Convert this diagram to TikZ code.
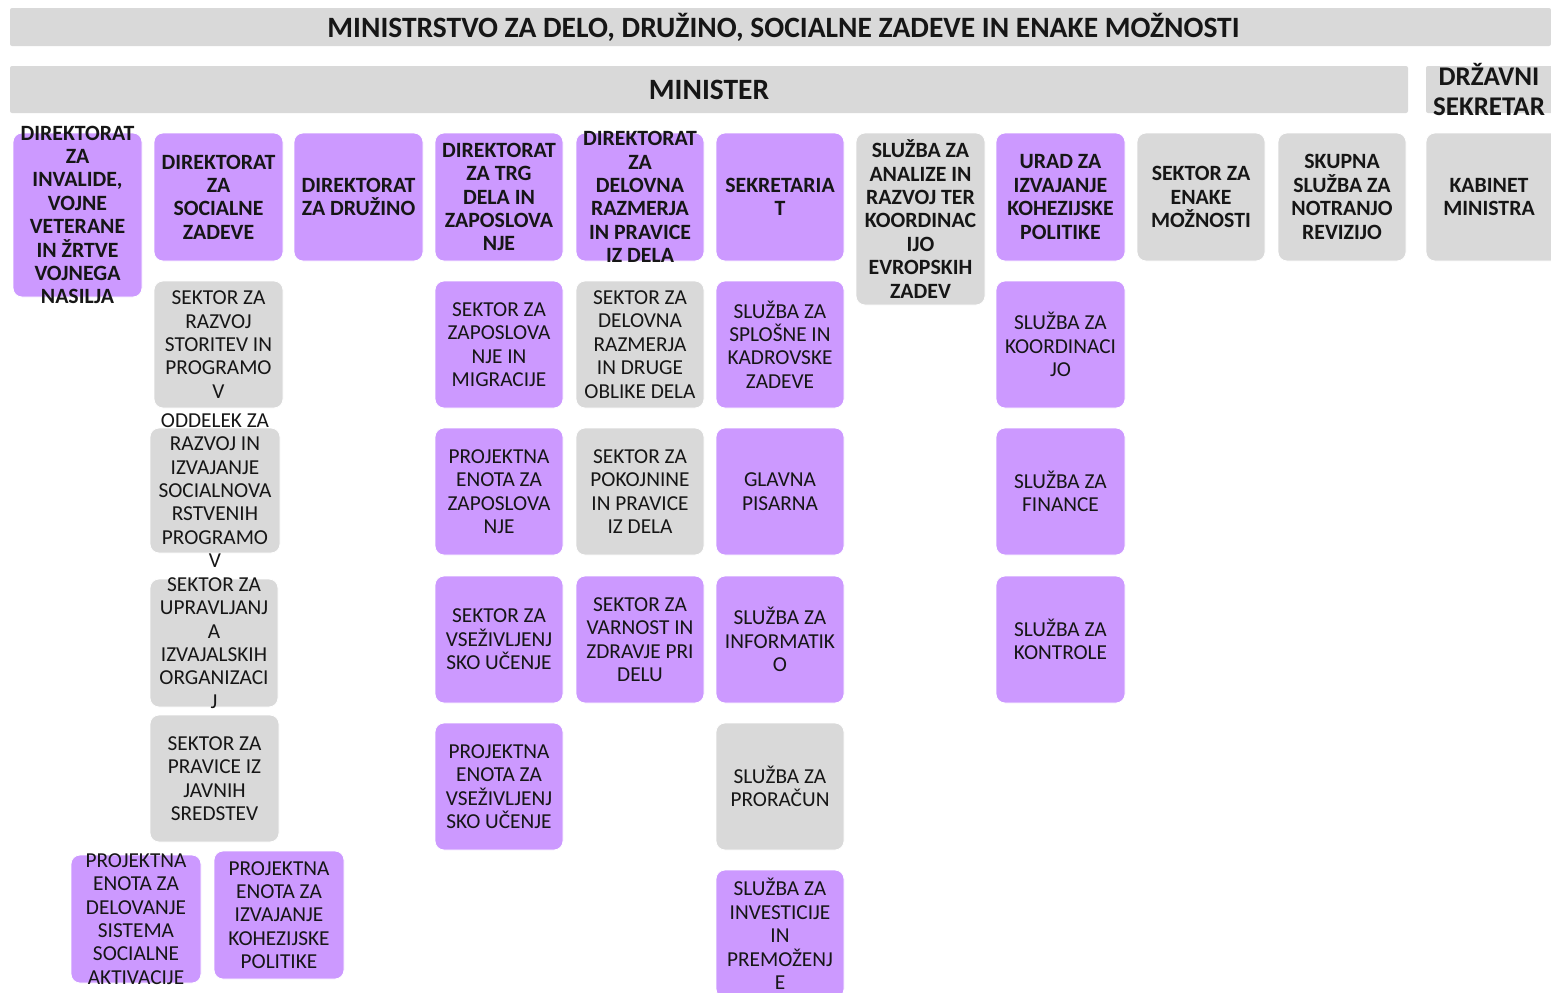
\documentclass[tikz,border=0pt]{standalone}
\usepackage{fontspec}
\setmainfont{Carlito}
\definecolor{purp}{RGB}{204,153,255}
\definecolor{grayb}{RGB}{217,217,217}
\definecolor{ink}{RGB}{22,22,22}
\tikzset{
  pbox/.style={fill=purp, draw=white, line width=0.8pt, rounded corners=9pt},
  gbox/.style={fill=grayb, draw=white, line width=0.8pt, rounded corners=9pt},
  bar/.style={fill=grayb, draw=none, rounded corners=2pt},
  tb/.style={align=center, inner sep=0pt, text=ink, font=\fontsize{21.8}{23.4}\selectfont\bfseries},
  tr/.style={align=center, inner sep=0pt, text=ink, font=\fontsize{21.3}{23.4}\selectfont},
}
\newcommand\ob[8]{%
  \node[#6, minimum width={(#4-#2)*1pt}, minimum height={(#5-#3)*1pt}, inner sep=0pt, outer sep=0pt] (#1) at ({(#2+#4)/2},{(#3+#5)/2}) {};
  \node[#7] (#1t) at (#1.center) {#8};
}
\begin{document}
\begin{tikzpicture}[x=1pt,y=-1pt]
\useasboundingbox (0,0) rectangle (1551,993);
% top bars
\node[bar, minimum width=1541pt, minimum height=38pt, inner sep=0pt] (top) at (780.5,27) {};
\node[font=\fontsize{29.5}{33}\selectfont\bfseries, text=ink, inner sep=0pt] (topt) at (783.5,27) {MINISTRSTVO ZA DELO, DRUŽINO, SOCIALNE ZADEVE IN ENAKE MOŽNOSTI};
\node[bar, minimum width=1398pt, minimum height=47pt, inner sep=0pt] (min) at (709,89.5) {};
\node[font=\fontsize{29.5}{33}\selectfont\bfseries, text=ink, inner sep=0pt] (mint) at (709,89.5) {MINISTER};
\node[bar, minimum width=140pt, minimum height=47pt, inner sep=0pt] (ds) at (1496,89.5) {};
\node[align=center, font=\fontsize{27}{30}\selectfont\bfseries, text=ink, inner sep=0pt] (dst) at (1489,89) {DRŽAVNI\\SEKRETAR};
% row 0
\ob{a1}{13}{133}{142}{297}{pbox}{tb}{DIREKTORAT\\ZA\\INVALIDE,\\VOJNE\\VETERANE\\IN ŽRTVE\\VOJNEGA\\NASILJA}
\ob{a2}{154}{133}{283}{261}{pbox}{tb}{DIREKTORAT\\ZA\\SOCIALNE\\ZADEVE}
\ob{a3}{294}{133}{423}{261}{pbox}{tb}{DIREKTORAT\\ZA DRUŽINO}
\ob{a4}{435}{133}{563}{261}{pbox}{tb}{DIREKTORAT\\ZA TRG\\DELA IN\\ZAPOSLOVA\\NJE}
\ob{a5}{576}{133}{704}{261}{pbox}{tb}{DIREKTORAT\\ZA\\DELOVNA\\RAZMERJA\\IN PRAVICE\\IZ DELA}
\ob{a6}{716}{133}{844}{261}{pbox}{tb}{SEKRETARIA\\T}
\ob{a7}{856}{133}{985}{305}{gbox}{tb}{SLUŽBA ZA\\ANALIZE IN\\RAZVOJ TER\\KOORDINAC\\IJO\\EVROPSKIH\\ZADEV}
\ob{a8}{996}{133}{1125}{261}{pbox}{tb}{URAD ZA\\IZVAJANJE\\KOHEZIJSKE\\POLITIKE}
\ob{a9}{1137}{133}{1265}{261}{gbox}{tb}{SEKTOR ZA\\ENAKE\\MOŽNOSTI}
\ob{a10}{1278}{133}{1406}{261}{gbox}{tb}{SKUPNA\\SLUŽBA ZA\\NOTRANJO\\REVIZIJO}
\node[gbox, minimum width=140pt, minimum height=128pt, inner sep=0pt] (a11) at (1496,197) {};
\node[tb] (a11t) at (1489,197) {KABINET\\MINISTRA};
% row 1
\ob{b2}{154}{281}{283}{408}{gbox}{tr}{SEKTOR ZA\\RAZVOJ\\STORITEV IN\\PROGRAMO\\V}
\ob{b4}{435}{281}{563}{408}{pbox}{tr}{SEKTOR ZA\\ZAPOSLOVA\\NJE IN\\MIGRACIJE}
\ob{b5}{576}{281}{704}{408}{gbox}{tr}{SEKTOR ZA\\DELOVNA\\RAZMERJA\\IN DRUGE\\OBLIKE DELA}
\ob{b6}{716}{281}{844}{408}{pbox}{tr}{SLUŽBA ZA\\SPLOŠNE IN\\KADROVSKE\\ZADEVE}
\ob{b8}{996}{281}{1125}{408}{pbox}{tr}{SLUŽBA ZA\\KOORDINACI\\JO}
% row 2
\ob{c2}{150}{428}{280}{553}{gbox}{tr}{ODDELEK ZA\\RAZVOJ IN\\IZVAJANJE\\SOCIALNOVA\\RSTVENIH\\PROGRAMO\\V}
\ob{c4}{435}{428}{563}{555}{pbox}{tr}{PROJEKTNA\\ENOTA ZA\\ZAPOSLOVA\\NJE}
\ob{c5}{576}{428}{704}{555}{gbox}{tr}{SEKTOR ZA\\POKOJNINE\\IN PRAVICE\\IZ DELA}
\ob{c6}{716}{428}{844}{555}{pbox}{tr}{GLAVNA\\PISARNA}
\ob{c8}{996}{428}{1125}{555}{pbox}{tr}{SLUŽBA ZA\\FINANCE}
% row 3
\ob{d2}{150}{579}{278}{707}{gbox}{tr}{SEKTOR ZA\\UPRAVLJANJ\\A\\IZVAJALSKIH\\ORGANIZACI\\J}
\ob{d4}{435}{576}{563}{703}{pbox}{tr}{SEKTOR ZA\\VSEŽIVLJENJ\\SKO UČENJE}
\ob{d5}{576}{576}{704}{703}{pbox}{tr}{SEKTOR ZA\\VARNOST IN\\ZDRAVJE PRI\\DELU}
\ob{d6}{716}{576}{844}{703}{pbox}{tr}{SLUŽBA ZA\\INFORMATIK\\O}
\ob{d8}{996}{576}{1125}{703}{pbox}{tr}{SLUŽBA ZA\\KONTROLE}
% row 4
\ob{e2}{150}{715}{279}{842}{gbox}{tr}{SEKTOR ZA\\PRAVICE IZ\\JAVNIH\\SREDSTEV}
\ob{e4}{435}{723}{563}{850}{pbox}{tr}{PROJEKTNA\\ENOTA ZA\\VSEŽIVLJENJ\\SKO UČENJE}
\ob{e6}{716}{723}{844}{850}{gbox}{tr}{SLUŽBA ZA\\PRORAČUN}
% row 5
\ob{f1}{71}{855}{201}{983}{pbox}{tr}{PROJEKTNA\\ENOTA ZA\\DELOVANJE\\SISTEMA\\SOCIALNE\\AKTIVACIJE}
\ob{f2}{214}{851}{344}{979}{pbox}{tr}{PROJEKTNA\\ENOTA ZA\\IZVAJANJE\\KOHEZIJSKE\\POLITIKE}
\ob{f6}{716}{870}{844}{998}{pbox}{tr}{SLUŽBA ZA\\INVESTICIJE\\IN\\PREMOŽENJ\\E}
\end{tikzpicture}
\end{document}
